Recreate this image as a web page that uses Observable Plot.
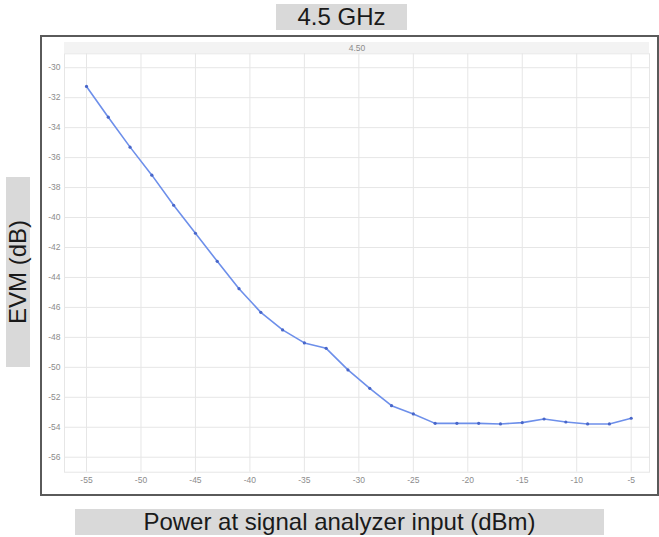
<!DOCTYPE html>
<html>
<head>
<meta charset="utf-8">
<script src="https://cdn.jsdelivr.net/npm/d3@7"></script>
<script src="https://cdn.jsdelivr.net/npm/@observablehq/plot@0.6"></script>
<style>
  html, body { margin: 0; padding: 0; background: #ffffff; }
  #wrap { position: relative; width: 659px; height: 537px; overflow: hidden; font-family: "Liberation Sans", Arial, sans-serif; }
  .lbl { position: absolute; background: #d9d9d9; color: #1a1a1a; font-size: 24px; display: flex; align-items: center; justify-content: center; white-space: nowrap; }
  #strip { position: absolute; left: 64px; top: 42px; width: 585px; height: 11px; background: #f3f3f3; }
  #chart { position: absolute; left: 0; top: 0; }
  #border { position: absolute; left: 40px; top: 35px; width: 619px; height: 461px; box-sizing: border-box; border: 2px solid #5a5a5a; }
</style>
</head>
<body>
<div id="wrap">
  <div id="strip"></div>
  <div id="chart"></div>
  <div id="border"></div>
  <div class="lbl" id="title" style="left:276px; top:4px; width:131px; height:26px;">4.5 GHz</div>
  <div class="lbl" id="xlab" style="left:75px; top:509px; width:529px; height:26px;">Power at signal analyzer input (dBm)</div>
  <div class="lbl" id="ylab" style="left:6px; top:177px; width:24px; height:190px;"><span style="transform: rotate(-90deg); display:inline-block;">EVM (dB)</span></div>
</div>
<script>
// Data
const facetLabel = "4.50";
const power = [-55, -53, -51, -49, -47, -45, -43, -41, -39, -37, -35, -33, -31, -29, -27, -25, -23, -21, -19, -17, -15, -13, -11, -9, -7, -5];
const evm = [-31.25, -33.3, -35.3, -37.17, -39.18, -41.05, -42.92, -44.75, -46.33, -47.5, -48.37, -48.73, -50.17, -51.4, -52.56, -53.11, -53.74, -53.74, -53.74, -53.78, -53.69, -53.45, -53.65, -53.78, -53.78, -53.4];
const xTicks = [-55, -50, -45, -40, -35, -30, -25, -20, -15, -10, -5];
const yTicks = [-56, -54, -52, -50, -48, -46, -44, -42, -40, -38, -36, -34, -32, -30];

const data = power.map((p, i) => ({ power: p, evm: evm[i], freq: facetLabel }));

const chart = Plot.plot({
  width: 659,
  height: 537,
  marginLeft: 64,
  marginRight: 10,
  marginTop: 53.3,
  marginBottom: 65.3,
  style: { background: "transparent", fontFamily: "Liberation Sans, Arial, sans-serif", fontSize: "8.5px", color: "#8c8c8c" },
  fx: { domain: [facetLabel], padding: 0, axis: "top", label: null, tickSize: 0, tickPadding: 2.5, fontSize: 7 },
  x: { domain: [-57.02, -3.32], ticks: xTicks, tickSize: 0, tickPadding: 5, label: null, tickFormat: d => String(d) },
  y: { domain: [-57.0, -29.07], ticks: yTicks, tickSize: 0, tickPadding: 4, label: null, tickFormat: d => String(d) },
  marks: [
    Plot.gridX(xTicks, { stroke: "#e6e6e6", strokeOpacity: 1, strokeWidth: 1 }),
    Plot.gridY(yTicks, { stroke: "#e6e6e6", strokeOpacity: 1, strokeWidth: 1 }),
    Plot.frame({ stroke: "#e6e6e6", strokeWidth: 1 }),
    Plot.line(data, { x: "power", y: "evm", fx: "freq", stroke: "#6d8fea", strokeWidth: 1.6 }),
    Plot.dot(data, { x: "power", y: "evm", fx: "freq", r: 1.6, fill: "#4866c9", stroke: "none" })
  ]
});
document.getElementById("chart").appendChild(chart);
</script>
</body>
</html>
